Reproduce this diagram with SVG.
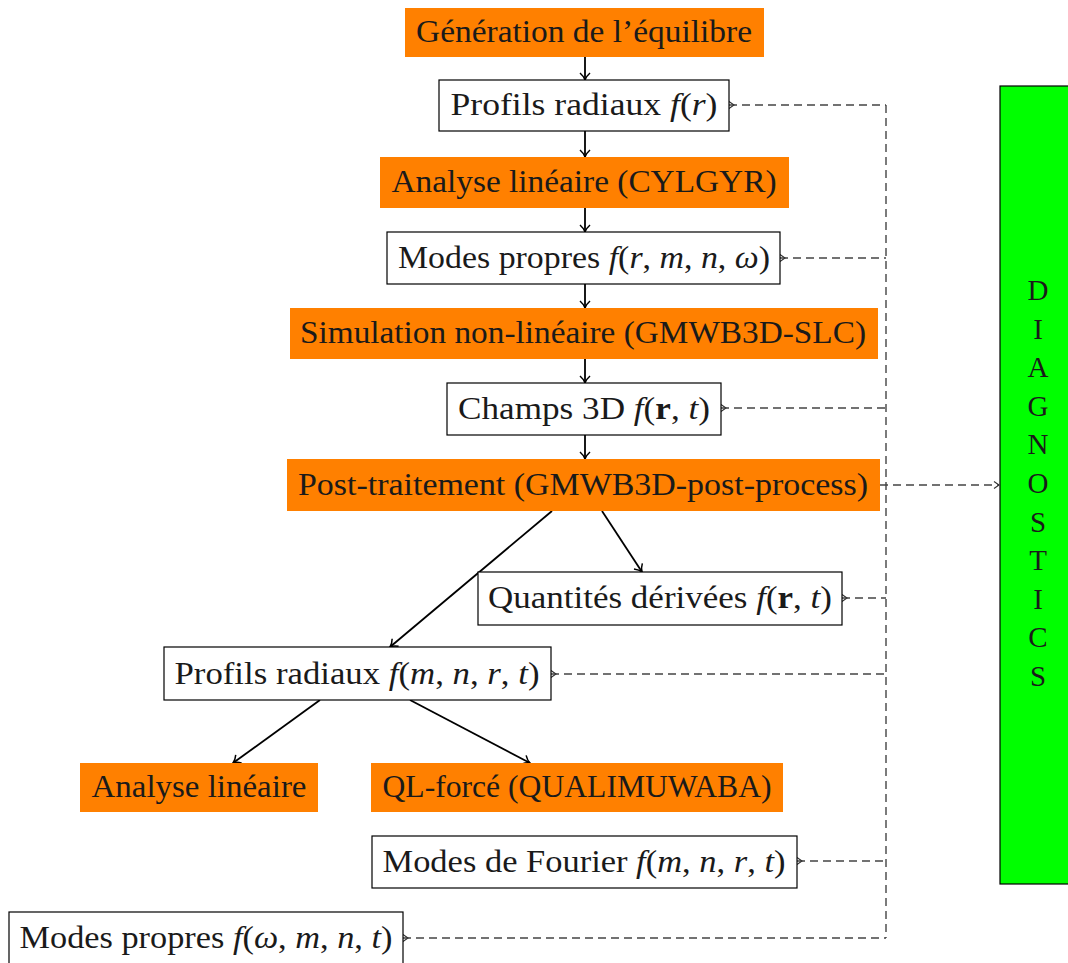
<svg xmlns="http://www.w3.org/2000/svg" width="1068" height="963" viewBox="0 0 1068 963">
<style>
  .or { fill: #ff8000; }
  .wb { fill: #ffffff; stroke: #000; stroke-width: 1.2; }
  text { font-family: "Liberation Serif", "DejaVu Serif", serif; font-size: 31px; fill: #1a1a1a; text-anchor: middle; }
  .i { font-style: italic; }
  .b { font-weight: bold; }
  .arr { stroke: #000; stroke-width: 1.8; fill: none; marker-end: url(#ah); }
  .dash { stroke: #444; stroke-width: 1.4; fill: none; stroke-dasharray: 8 5; }
  .tail { marker-start: url(#tl); }
  .dg { font-size: 29px; }
</style>
<defs>
  <marker id="ah" markerWidth="14" markerHeight="14" refX="9" refY="7" orient="auto" markerUnits="userSpaceOnUse">
    <path d="M2,2 Q5.5,6 9,7 Q5.5,8 2,12" fill="none" stroke="#000" stroke-width="1.5"/>
  </marker>
  <marker id="tl" markerWidth="10" markerHeight="10" refX="1" refY="5" orient="auto" markerUnits="userSpaceOnUse">
    <path d="M1,1.5 L6,5 L1,8.5" fill="none" stroke="#333" stroke-width="1.1"/>
  </marker>
  <marker id="ah2" markerWidth="10" markerHeight="10" refX="7" refY="5" orient="auto" markerUnits="userSpaceOnUse">
    <path d="M2,1.5 L7,5 L2,8.5" fill="none" stroke="#333" stroke-width="1.1"/>
  </marker>
</defs>

<g id="diagnostics">
  <rect x="1000" y="86" width="70" height="798" fill="#00ff00" stroke="#000" stroke-width="1.2"/>
  <text class="dg" x="1038" y="300">D</text>
  <text class="dg" x="1038" y="339">I</text>
  <text class="dg" x="1038" y="377">A</text>
  <text class="dg" x="1038" y="416">G</text>
  <text class="dg" x="1038" y="454">N</text>
  <text class="dg" x="1038" y="493">O</text>
  <text class="dg" x="1038" y="532">S</text>
  <text class="dg" x="1038" y="570">T</text>
  <text class="dg" x="1038" y="609">I</text>
  <text class="dg" x="1038" y="647">C</text>
  <text class="dg" x="1038" y="686">S</text>
</g>

<g id="connectors">
  <line class="arr" x1="585" y1="57" x2="585" y2="80"/>
  <line class="arr" x1="585" y1="131" x2="585" y2="157"/>
  <line class="arr" x1="585" y1="208" x2="585" y2="232"/>
  <line class="arr" x1="585" y1="284" x2="585" y2="308"/>
  <line class="arr" x1="585" y1="359" x2="585" y2="383"/>
  <line class="arr" x1="585" y1="435" x2="585" y2="459"/>
  <line class="arr" x1="602" y1="511" x2="642" y2="572"/>
  <line class="arr" x1="552" y1="511" x2="390" y2="647"/>
  <line class="arr" x1="320" y1="700" x2="233" y2="763"/>
  <line class="arr" x1="410" y1="700" x2="530" y2="763"/>
  <line class="dash" x1="886" y1="105" x2="886" y2="938"/>
  <line class="dash tail" x1="729" y1="105" x2="886" y2="105"/>
  <line class="dash tail" x1="780" y1="258" x2="886" y2="258"/>
  <line class="dash tail" x1="721" y1="408" x2="886" y2="408"/>
  <line class="dash" x1="880" y1="485" x2="999" y2="485" marker-end="url(#ah2)"/>
  <line class="dash tail" x1="842" y1="598" x2="886" y2="598"/>
  <line class="dash tail" x1="551" y1="674" x2="886" y2="674"/>
  <line class="dash tail" x1="797" y1="861" x2="886" y2="861"/>
  <line class="dash tail" x1="403" y1="938" x2="886" y2="938"/>
</g>

<g id="n1"><rect class="or" x="405" y="8" width="359" height="49"/><text x="584" y="42" textLength="336" lengthAdjust="spacingAndGlyphs">Génération de l’équilibre</text></g>
<g id="n2"><rect class="wb" x="439" y="80" width="290" height="51"/><text x="584" y="115" textLength="267" lengthAdjust="spacingAndGlyphs">Profils radiaux <tspan class="i">f</tspan>(<tspan class="i">r</tspan>)</text></g>
<g id="n3"><rect class="or" x="380" y="157" width="409" height="51"/><text x="584" y="192" textLength="385" lengthAdjust="spacingAndGlyphs">Analyse linéaire (CYLGYR)</text></g>
<g id="n4"><rect class="wb" x="387" y="232" width="393" height="52"/><text x="584" y="268" textLength="372" lengthAdjust="spacingAndGlyphs">Modes propres <tspan class="i">f</tspan>(<tspan class="i">r</tspan>, <tspan class="i">m</tspan>, <tspan class="i">n</tspan>, <tspan class="i">ω</tspan>)</text></g>
<g id="n5"><rect class="or" x="290" y="308" width="588" height="51"/><text x="583" y="343" textLength="566" lengthAdjust="spacingAndGlyphs">Simulation non-linéaire (GMWB3D-SLC)</text></g>
<g id="n6"><rect class="wb" x="447" y="383" width="274" height="52"/><text x="584" y="419" textLength="252" lengthAdjust="spacingAndGlyphs">Champs 3D <tspan class="i">f</tspan>(<tspan class="b">r</tspan>, <tspan class="i">t</tspan>)</text></g>
<g id="n7"><rect class="or" x="287" y="459" width="593" height="52"/><text x="583" y="495" textLength="570" lengthAdjust="spacingAndGlyphs">Post-traitement (GMWB3D-post-process)</text></g>
<g id="n8"><rect class="wb" x="478" y="572" width="364" height="53"/><text x="660" y="608" textLength="344" lengthAdjust="spacingAndGlyphs">Quantités dérivées <tspan class="i">f</tspan>(<tspan class="b">r</tspan>, <tspan class="i">t</tspan>)</text></g>
<g id="n9"><rect class="wb" x="164" y="647" width="387" height="53"/><text x="357" y="684" textLength="365" lengthAdjust="spacingAndGlyphs">Profils radiaux <tspan class="i">f</tspan>(<tspan class="i">m</tspan>, <tspan class="i">n</tspan>, <tspan class="i">r</tspan>, <tspan class="i">t</tspan>)</text></g>
<g id="n10"><rect class="or" x="80" y="763" width="238" height="49"/><text x="199" y="797" textLength="215" lengthAdjust="spacingAndGlyphs">Analyse linéaire</text></g>
<g id="n11"><rect class="or" x="371" y="763" width="412" height="49"/><text x="577" y="797" textLength="389" lengthAdjust="spacingAndGlyphs">QL-forcé (QUALIMUWABA)</text></g>
<g id="n12"><rect class="wb" x="372" y="836" width="425" height="52"/><text x="584" y="872" textLength="403" lengthAdjust="spacingAndGlyphs">Modes de Fourier <tspan class="i">f</tspan>(<tspan class="i">m</tspan>, <tspan class="i">n</tspan>, <tspan class="i">r</tspan>, <tspan class="i">t</tspan>)</text></g>
<g id="n13"><rect class="wb" x="9" y="912" width="394" height="52"/><text x="206" y="948" textLength="373" lengthAdjust="spacingAndGlyphs">Modes propres <tspan class="i">f</tspan>(<tspan class="i">ω</tspan>, <tspan class="i">m</tspan>, <tspan class="i">n</tspan>, <tspan class="i">t</tspan>)</text></g>
</svg>
